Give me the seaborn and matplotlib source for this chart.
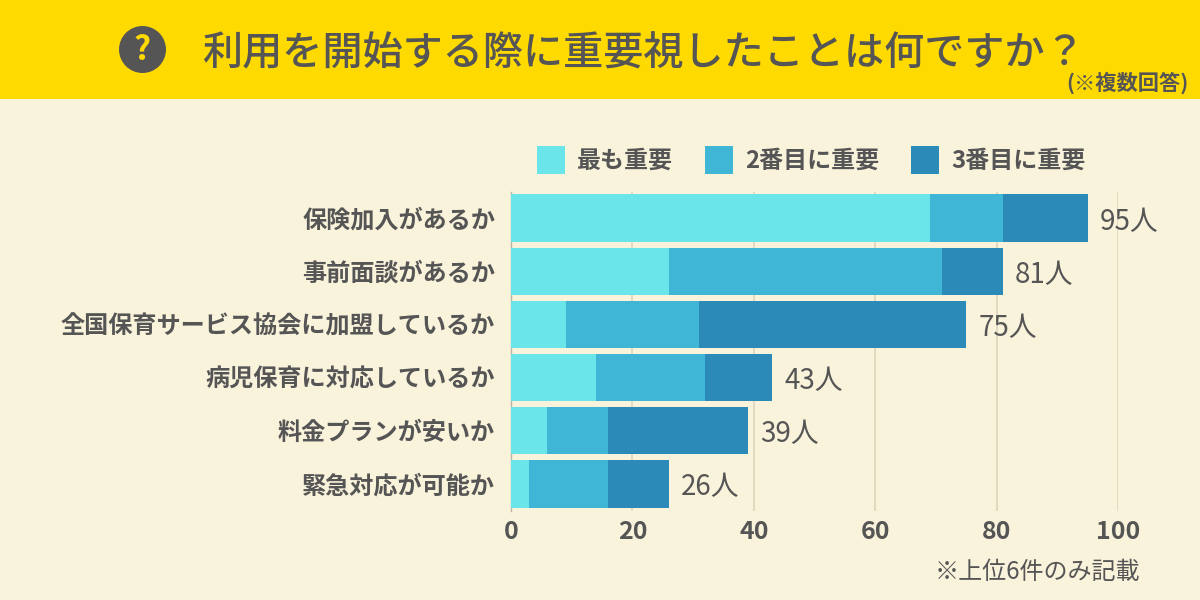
import matplotlib
matplotlib.use("Agg")
import matplotlib.pyplot as plt
from matplotlib.patches import Circle, Patch, Rectangle
import pandas as pd
import seaborn as sns

categories = ["保険加入があるか", "事前面談があるか", "全国保育サービス協会に加盟しているか",
              "病児保育に対応しているか", "料金プランが安いか", "緊急対応が可能か"]
first = [69, 26, 9, 14, 6, 3]
second = [12, 45, 22, 18, 10, 13]
third = [14, 10, 44, 11, 23, 10]
totals = [95, 81, 75, 43, 39, 26]
series_names = ["最も重要", "2番目に重要", "3番目に重要"]
x_ticks = [0, 20, 40, 60, 80, 100]

title = "利用を開始する際に重要視したことは何ですか？"
subtitle = "(※複数回答)"
note = "※上位6件のみ記載"

bg = "#FAF3DC"
yellow = "#FFDA00"
text_col = "#555555"
colors = ["#6AE6EA", "#40B6D6", "#2C8AB8"]
W, H = 1200, 600

sns.set_theme(style="white")
plt.rcParams["font.family"] = ["Noto Sans CJK JP", "DejaVu Sans"]

df = pd.DataFrame({"cat": categories, "a": first, "b": second, "c": third})
df["ab"] = df["a"] + df["b"]
df["abc"] = df["ab"] + df["c"]

fig = plt.figure(figsize=(12, 6), dpi=100, facecolor=bg)

# header band, icon and free text, pixel coords
top = fig.add_axes([0, 0, 1, 1])
top.set_xlim(0, W)
top.set_ylim(H, 0)
top.axis("off")
top.add_patch(Rectangle((0, 0), W, 99, color=yellow, lw=0))
top.add_patch(Circle((142.5, 49.5), 23.5, color=text_col, lw=0))
top.text(142.5, 51, "?", color=yellow, fontsize=24, fontweight="bold", ha="center", va="center")
top.text(202, 54, title, color=text_col, fontsize=28.9, fontweight="medium", ha="left", va="center")
top.text(1189, 83, subtitle, color=text_col, fontsize=15.3, fontweight="bold", ha="right", va="center")
top.text(1140, 572, note, color=text_col, fontsize=17.3, ha="right", va="center")

ax = fig.add_axes([511 / W, 1 - 510.5 / H, (1118 - 511) / W, (510.5 - 191.5) / H])
ax.set_facecolor("none")

# longest first so the shorter segments sit on top
sns.barplot(data=df, x="abc", y="cat", color=colors[2], width=0.89, saturation=1, linewidth=0, ax=ax, zorder=3)
sns.barplot(data=df, x="ab", y="cat", color=colors[1], width=0.89, saturation=1, linewidth=0, ax=ax, zorder=4)
sns.barplot(data=df, x="a", y="cat", color=colors[0], width=0.89, saturation=1, linewidth=0, ax=ax, zorder=5)

ax.set_xlim(0, 100)
ax.set_xticks(x_ticks)
ax.set_xlabel("")
ax.set_ylabel("")
ax.grid(axis="x", color="#DDD6BC", lw=1.2, zorder=0)
ax.set_axisbelow(True)
sns.despine(ax=ax, top=True, right=True, bottom=True, left=False)
ax.spines["left"].set_color("#B9B3A0")
ax.spines["left"].set_linewidth(1)
ax.tick_params(axis="both", length=0)
ax.tick_params(axis="x", pad=7)
ax.tick_params(axis="y", pad=11.5)
for lab in ax.get_yticklabels():
    lab.set_color(text_col)
    lab.set_fontweight("bold")
    lab.set_fontsize(17.4)
for lab in ax.get_xticklabels():
    lab.set_color(text_col)
    lab.set_fontweight("bold")
    lab.set_fontsize(18)

for i, t in enumerate(totals):
    ax.annotate(f"{t}人", (t, i), xytext=(9, -2.5), textcoords="offset points", color=text_col,
                fontsize=20, ha="left", va="center", annotation_clip=False, zorder=6)

handles = [Patch(color=c, lw=0) for c in colors]
fig.legend(handles, series_names, loc="center left", bbox_to_anchor=(537 / W, 1 - 160 / H),
           ncol=3, frameon=False, borderpad=0, borderaxespad=0, handlelength=1.17, handleheight=1.42,
           handletextpad=0.5, columnspacing=1.33, labelcolor=text_col,
           prop={"size": 17.3, "weight": "bold"})

fig.savefig("out.png", dpi=100, facecolor=bg)
